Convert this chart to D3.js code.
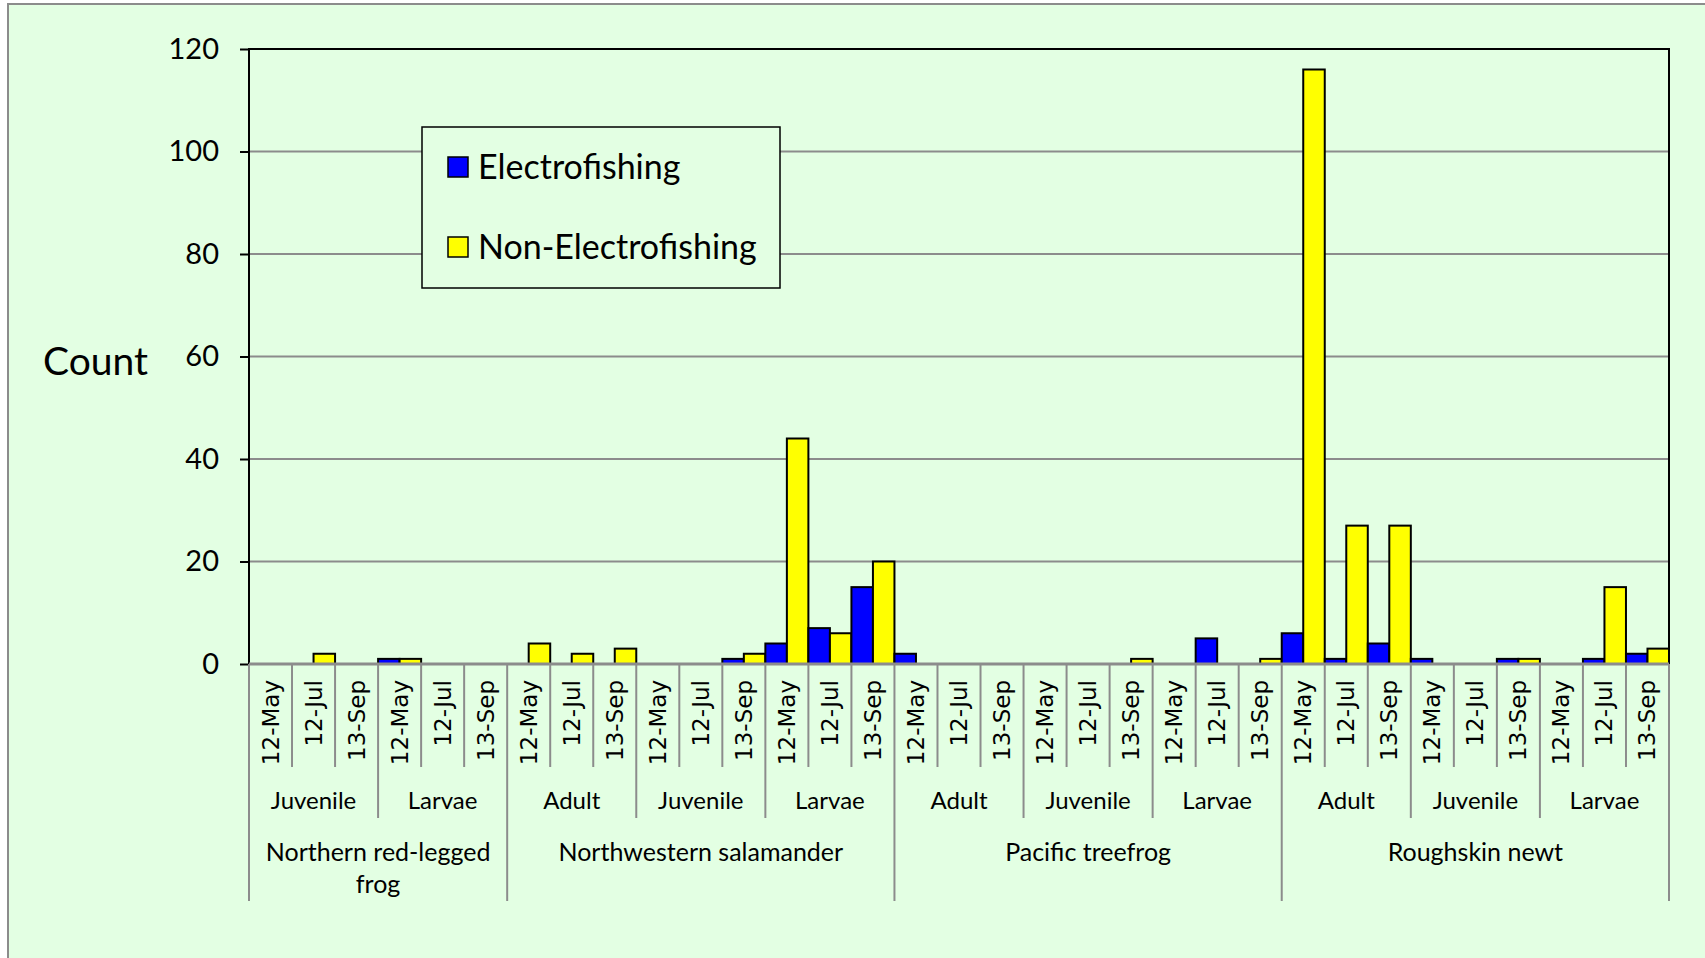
<!DOCTYPE html>
<html lang="en">
<head>
<meta charset="UTF-8">
<title>Count by species, stage and date</title>
<script src="https://d3js.org/d3.v7.min.js"></script>
<style>
  body { margin: 0; background: #fff; }
  svg text { fill: #000; }
</style>
</head>
<body>
<svg id="chart" width="1705" height="958"></svg>
<script>
// Data
var species = ["Northern red-legged frog", "Northwestern salamander", "Pacific treefrog", "Roughskin newt"];
var stagesBySpecies = [
  ["Juvenile", "Larvae"],
  ["Adult", "Juvenile", "Larvae"],
  ["Adult", "Juvenile", "Larvae"],
  ["Adult", "Juvenile", "Larvae"]
];
var dates = ["12-May", "12-Jul", "13-Sep"];
var seriesNames = ["Electrofishing", "Non-Electrofishing"];
var seriesColors = ["#0000ff", "#ffff00"];

var electro = [
  0, 0, 0,  1, 0, 0,
  0, 0, 0,  0, 0, 1,  4, 7, 15,
  2, 0, 0,  0, 0, 0,  0, 5, 0,
  6, 1, 4,  1, 0, 1,  0, 1, 2
];
var nonElectro = [
  0, 2, 0,  1, 0, 0,
  4, 2, 3,  0, 0, 2,  44, 6, 20,
  0, 0, 0,  0, 0, 1,  0, 0, 1,
  116, 27, 27,  0, 0, 1,  0, 15, 3
];
var yTicks = [0, 20, 40, 60, 80, 100, 120];

// Build flat category list
var cats = [];
species.forEach(function(sp, si) {
  stagesBySpecies[si].forEach(function(st) {
    dates.forEach(function(dt) {
      cats.push({species: sp, stage: st, date: dt, key: sp + "|" + st + "|" + dt});
    });
  });
});
cats.forEach(function(c, i) { c.values = [electro[i], nonElectro[i]]; });

var svg = d3.select("#chart");
var W = 1705, H = 958;
var plot = {left: 249, right: 1669, top: 49, bottom: 664};

// chart area background + border
svg.append("rect")
  .attr("x", 8).attr("y", 4)
  .attr("width", W).attr("height", H)
  .attr("fill", "#e3ffe3")
  .attr("stroke", "#8c8c8c").attr("stroke-width", 2);

var x = d3.scaleBand()
  .domain(cats.map(function(c) { return c.key; }))
  .range([plot.left, plot.right])
  .padding(0);

var xSub = d3.scaleBand()
  .domain(seriesNames)
  .range([0, x.bandwidth()])
  .padding(0);

var y = d3.scaleLinear()
  .domain([0, 120])
  .range([plot.bottom, plot.top]);

var font = "Lato, 'Open Sans', sans-serif";

// gridlines
svg.append("g")
  .selectAll("line")
  .data(yTicks.filter(function(t) { return t > 0 && t < 120; }))
  .join("line")
  .attr("x1", plot.left).attr("x2", plot.right)
  .attr("y1", function(d) { return y(d); })
  .attr("y2", function(d) { return y(d); })
  .attr("stroke", "#8c8c8c").attr("stroke-width", 2);

// y axis
var yAxis = svg.append("g")
  .attr("transform", "translate(" + plot.left + ",0)")
  .call(d3.axisLeft(y).tickValues(yTicks).tickSize(9).tickPadding(21));
yAxis.select(".domain").remove();
yAxis.selectAll("line").attr("stroke", "#000").attr("stroke-width", 2);
yAxis.selectAll("text")
  .attr("font-family", font)
  .attr("font-size", 29)
  .attr("fill", "#000");

// plot frame (left, top, right)
svg.append("path")
  .attr("d", "M" + plot.left + "," + plot.bottom + "V" + plot.top + "H" + plot.right + "V" + plot.bottom)
  .attr("fill", "none")
  .attr("stroke", "#000").attr("stroke-width", 2);

// bars
var groups = svg.append("g")
  .selectAll("g")
  .data(cats)
  .join("g")
  .attr("transform", function(d) { return "translate(" + x(d.key) + ",0)"; });

groups.selectAll("rect")
  .data(function(d) {
    return d.values.map(function(v, i) { return {series: seriesNames[i], value: v, color: seriesColors[i]}; })
      .filter(function(e) { return e.value > 0; });
  })
  .join("rect")
  .attr("x", function(d) { return xSub(d.series); })
  .attr("width", xSub.bandwidth())
  .attr("y", function(d) { return y(d.value); })
  .attr("height", function(d) { return y(0) - y(d.value); })
  .attr("fill", function(d) { return d.color; })
  .attr("stroke", "#000").attr("stroke-width", 2);

// category axis (multi-level)
var axisG = svg.append("g");
axisG.append("line")
  .attr("x1", plot.left).attr("x2", plot.right)
  .attr("y1", plot.bottom).attr("y2", plot.bottom)
  .attr("stroke", "#8c8c8c").attr("stroke-width", 3);

var dateLineEnd = 767, stageLineEnd = 818, speciesLineEnd = 901;

// divider lines at each category boundary
var boundaries = [];
cats.forEach(function(c, i) {
  var lvl;
  if (i === 0 || c.species !== cats[i - 1].species) lvl = speciesLineEnd;
  else if (c.stage !== cats[i - 1].stage) lvl = stageLineEnd;
  else lvl = dateLineEnd;
  boundaries.push({x: x(c.key), end: lvl});
});
boundaries.push({x: plot.right, end: speciesLineEnd});

axisG.selectAll("line.div")
  .data(boundaries)
  .join("line")
  .attr("class", "div")
  .attr("x1", function(d) { return d.x; })
  .attr("x2", function(d) { return d.x; })
  .attr("y1", plot.bottom).attr("y2", function(d) { return d.end; })
  .attr("stroke", "#8c8c8c").attr("stroke-width", 2);

// date labels (rotated)
axisG.selectAll("text.date")
  .data(cats)
  .join("text")
  .attr("class", "date")
  .attr("transform", function(d) {
    return "translate(" + (x(d.key) + x.bandwidth() / 2 + 8) + ",680) rotate(-90)";
  })
  .attr("text-anchor", "end")
  .attr("font-family", "'DejaVu Sans', Verdana, sans-serif")
  .attr("font-size", 23)
  .text(function(d) { return d.date; });

// stage labels
var stageSpans = [];
cats.forEach(function(c, i) {
  var last = stageSpans[stageSpans.length - 1];
  if (last && last.species === c.species && last.stage === c.stage) last.end = c.key;
  else stageSpans.push({species: c.species, stage: c.stage, start: c.key, end: c.key});
});
axisG.selectAll("text.stage")
  .data(stageSpans)
  .join("text")
  .attr("class", "stage")
  .attr("x", function(d) { return (x(d.start) + x(d.end) + x.bandwidth()) / 2; })
  .attr("y", 809)
  .attr("text-anchor", "middle")
  .attr("font-family", font)
  .attr("font-size", 24)
  .text(function(d) { return d.stage; });

// species labels (wrapped)
var speciesSpans = species.map(function(sp) {
  var own = cats.filter(function(c) { return c.species === sp; });
  return {species: sp, start: own[0].key, end: own[own.length - 1].key};
});
axisG.selectAll("text.species")
  .data(speciesSpans)
  .join("text")
  .attr("class", "species")
  .attr("text-anchor", "middle")
  .attr("font-family", font)
  .attr("font-size", 25)
  .attr("y", 861)
  .each(function(d) {
    var cx = (x(d.start) + x(d.end) + x.bandwidth()) / 2;
    var maxW = x(d.end) + x.bandwidth() - x(d.start) - 20;
    var node = d3.select(this);
    var words = d.species.split(" ");
    var line = [];
    var tspan = node.append("tspan").attr("x", cx).attr("dy", 0);
    words.forEach(function(w) {
      line.push(w);
      tspan.text(line.join(" "));
      if (tspan.node().getComputedTextLength() > maxW && line.length > 1) {
        line.pop();
        tspan.text(line.join(" "));
        line = [w];
        tspan = node.append("tspan").attr("x", cx).attr("dy", 32).text(w);
      }
    });
  });

// y axis title
svg.append("text")
  .attr("x", 43).attr("y", 375)
  .attr("font-family", font)
  .attr("font-size", 39)
  .text("Count");

// legend
var legend = svg.append("g");
legend.append("rect")
  .attr("x", 422).attr("y", 127)
  .attr("width", 358).attr("height", 161)
  .attr("fill", "#e3ffe3")
  .attr("stroke", "#000").attr("stroke-width", 1.5);

var legItems = legend.selectAll("g")
  .data(seriesNames)
  .join("g")
  .attr("transform", function(d, i) { return "translate(448," + (167 + i * 80) + ")"; });
legItems.append("rect")
  .attr("x", 0).attr("y", -10)
  .attr("width", 20).attr("height", 20)
  .attr("fill", function(d, i) { return seriesColors[i]; })
  .attr("stroke", "#000").attr("stroke-width", 1.5);
legItems.append("text")
  .attr("x", 30).attr("y", 12)
  .attr("font-family", font)
  .attr("font-size", 34)
  .text(function(d) { return d; });
</script>
</body>
</html>
